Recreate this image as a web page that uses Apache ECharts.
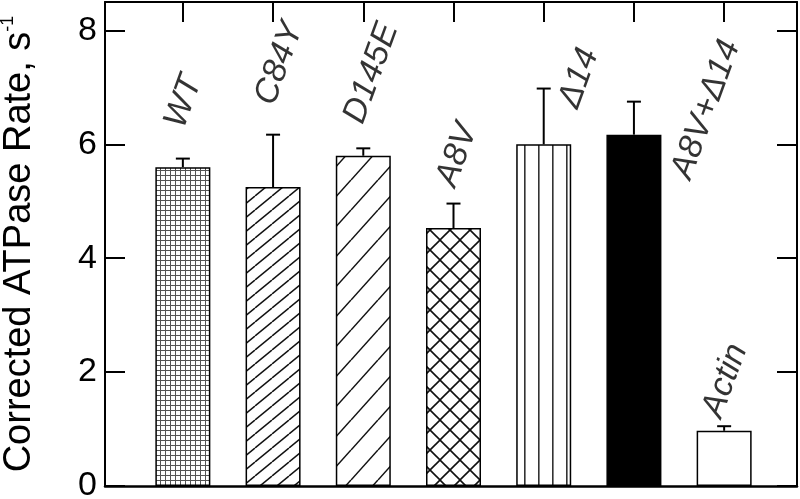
<!DOCTYPE html>
<html>
<head>
<meta charset="utf-8">
<script src="https://cdn.jsdelivr.net/npm/echarts@6/dist/echarts.min.js"></script>
<style>
html,body{margin:0;padding:0;background:#fff;}
#chart{width:800px;height:499px;}
</style>
</head>
<body>
<div id="chart"></div>
<script>
// ---- data ----
var categories = ['WT', 'C84Y', 'D145E', 'A8V', 'Δ14', 'A8V+Δ14', 'Actin'];
var rates      = [5.60, 5.25, 5.80, 4.53, 6.00, 6.17, 0.97];
var errors     = [0.15, 0.92, 0.13, 0.43, 0.98, 0.58, 0.08];
// label centre height (value units) and sideways shift (in category units)
var labelY     = [6.75, 7.42, 7.25, 5.81, 7.16, 6.61, 1.85];
var labelShift = [0.01, 0.07, 0.09, 0.04, 0.39, 0.80, 0.01];
var yTicks     = [0, 2, 4, 6, 8];
var Y_MAX      = 8.5;

// ---- fill patterns (style only) ----
function makeTile(w, h, draw) {
  var c = document.createElement('canvas');
  c.width = w; c.height = h;
  var g = c.getContext('2d');
  g.fillStyle = '#fff'; g.fillRect(0, 0, w, h);
  draw(g, w, h);
  return { image: c, repeat: 'repeat' };
}
function diag(g, w, h, lw, col) {
  g.strokeStyle = col; g.lineWidth = lw;
  for (var k = -1; k <= 1; k++) {
    g.beginPath(); g.moveTo(k * w, h); g.lineTo(k * w + w, 0); g.stroke();
  }
}
var patGrid = makeTile(5, 5, function (g) {
  g.fillStyle = '#555';
  g.fillRect(0, 0, 5, 1); g.fillRect(0, 0, 1, 5);
});
var patFine = makeTile(17, 14, function (g, w, h) { diag(g, w, h, 1.5, '#111'); });
var patCoarse = makeTile(27, 30, function (g, w, h) { diag(g, w, h, 1.5, '#111'); });
var patCross = makeTile(20, 20, function (g, w, h) {
  g.strokeStyle = '#111'; g.lineWidth = 1.6;
  for (var k = -1; k <= 1; k++) {
    g.beginPath(); g.moveTo(k * w, h); g.lineTo(k * w + w, 0); g.stroke();
    g.beginPath(); g.moveTo(k * w, 0); g.lineTo(k * w + w, h); g.stroke();
  }
});
var patVert = makeTile(14, 4, function (g) {
  g.fillStyle = '#333'; g.fillRect(6, 0, 1.6, 4);
});
var fills = [patGrid, patFine, patCoarse, patCross, patVert, '#000', '#fff'];

var FONT = '"Liberation Sans", Arial, sans-serif';
var TICK_LEN = 20;

var chart = echarts.init(document.getElementById('chart'), null, { renderer: 'canvas' });

var yCommon = { type: 'value', min: 0, max: Y_MAX, interval: 2 };
var tickStyle = { color: '#000', width: 2 };
function frameLine(w) { return { show: true, onZero: false, lineStyle: { color: '#000', width: w } }; }
var hiddenLine = { show: false, onZero: false };
var GB = { outerBoundsMode: 'none', containLabel: false, show: false };

chart.setOption({
  animation: false,
  grid: [
    Object.assign({ left: 105, right: 3, top: 2, bottom: 13 }, GB),          // frame
    Object.assign({ left: 137.75, right: 30.75, top: 2, bottom: 13 }, GB),   // bars
    Object.assign({ left: 105, right: 675, top: 2, bottom: 13 }, GB),        // left tick strip (right edge at x=125)
    Object.assign({ left: 137.75, right: 30.75, top: 2, bottom: 477 }, GB)   // top tick strip (20px tall)
  ],
  xAxis: [
    { gridIndex: 0, type: 'value', min: 0, max: 1, position: 'bottom', axisLine: frameLine(2.5),
      axisTick: { show: false }, axisLabel: { show: false }, splitLine: { show: false } },
    { gridIndex: 0, type: 'value', min: 0, max: 1, position: 'top', axisLine: frameLine(2),
      axisTick: { show: false }, axisLabel: { show: false }, splitLine: { show: false } },
    { gridIndex: 1, type: 'category', data: categories, boundaryGap: true, show: false },
    { gridIndex: 1, type: 'value', min: -0.5, max: 6.5, position: 'top', show: false },
    { gridIndex: 2, type: 'value', min: 0, max: 1, show: false },
    // category ticks at the top frame: axis sits on the zero line (bottom of the strip) and ticks point up
    { gridIndex: 3, type: 'category', data: categories, position: 'top', boundaryGap: true,
      axisLine: { show: false, onZero: true },
      axisTick: { show: true, inside: false, alignWithLabel: true, length: TICK_LEN, lineStyle: tickStyle },
      axisLabel: { show: false }, splitLine: { show: false } }
  ],
  yAxis: [
    Object.assign({}, yCommon, {
      gridIndex: 0, position: 'left',
      axisLine: frameLine(2),
      axisTick: { show: false },
      axisLabel: { color: '#000', fontSize: 34, fontFamily: FONT, margin: 8,
        formatter: function (v) { return yTicks.indexOf(v) >= 0 ? String(v) : ''; } },
      splitLine: { show: false },
      name: '{a|Corrected ATPase Rate, s}{b|-1}',
      nameLocation: 'middle', nameRotate: 90, nameGap: 64,
      nameTextStyle: { color: '#000', fontFamily: FONT,
        rich: { a: { fontSize: 38, fontFamily: FONT, color: '#000' },
                b: { fontSize: 18, fontFamily: FONT, color: '#000', padding: [0, 0, 24, 0] } } }
    }),
    Object.assign({}, yCommon, {
      gridIndex: 0, position: 'right',
      axisLine: frameLine(2),
      axisTick: { show: true, inside: true, length: TICK_LEN, lineStyle: tickStyle },
      axisLabel: { show: false }, splitLine: { show: false }
    }),
    Object.assign({}, yCommon, { gridIndex: 1, show: false, splitLine: { show: false } }),
    // left-frame ticks: right-side axis of the narrow strip, ticks pointing inward (leftwards to the frame)
    Object.assign({}, yCommon, {
      gridIndex: 2, position: 'right',
      axisLine: hiddenLine,
      axisTick: { show: true, inside: true, length: TICK_LEN, lineStyle: tickStyle },
      axisLabel: { show: false }, splitLine: { show: false }
    }),
    { gridIndex: 3, type: 'value', min: 0, max: 1, show: false, splitLine: { show: false } }
  ],
  series: [
    {
      type: 'bar', xAxisIndex: 2, yAxisIndex: 2, barWidth: 55, z: 2,
      data: rates.map(function (v, i) {
        return { value: v, itemStyle: { color: fills[i], borderColor: '#000', borderWidth: 1.5 } };
      })
    },
    {
      type: 'custom', xAxisIndex: 2, yAxisIndex: 2, z: 3,
      data: rates.map(function (v, i) { return [i, v, v + errors[i]]; }),
      renderItem: function (params, api) {
        var p1 = api.coord([api.value(0), api.value(1)]);
        var p2 = api.coord([api.value(0), api.value(2)]);
        var st = { stroke: '#000', lineWidth: 2 };
        return { type: 'group', children: [
          { type: 'line', shape: { x1: p1[0], y1: p1[1], x2: p2[0], y2: p2[1] }, style: st },
          { type: 'line', shape: { x1: p2[0] - 7, y1: p2[1], x2: p2[0] + 7, y2: p2[1] }, style: st }
        ] };
      }
    },
    {
      type: 'scatter', xAxisIndex: 3, yAxisIndex: 2, symbolSize: 0, z: 4, silent: true,
      data: labelY.map(function (v, i) { return [i + labelShift[i], v]; }),
      label: {
        show: true, position: 'inside', rotate: 70,
        align: 'center', verticalAlign: 'middle',
        fontSize: 34, fontStyle: 'italic', fontFamily: FONT, color: '#000',
        formatter: function (p) { return categories[p.dataIndex]; }
      }
    }
  ]
});
</script>
</body>
</html>
